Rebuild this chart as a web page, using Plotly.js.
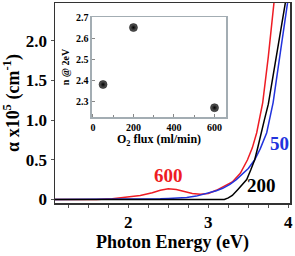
<!DOCTYPE html>
<html><head><meta charset="utf-8">
<script src="https://cdn.plot.ly/plotly-3.0.1.min.js"></script>
<style>html,body{margin:0;padding:0;background:#fff}#c{width:295px;height:256px}</style>
</head><body><div id="c"></div>
<script>
// Main chart: absorption coefficient vs photon energy
const e200 = [1.08, 3.2, 3.25, 3.3, 3.37, 3.42, 3.48, 3.53, 3.58, 3.62, 3.66, 3.7, 3.75, 3.8, 3.85, 3.9, 3.97, 4.0];
const a200 = [0, 0, 0.02, 0.05, 0.126, 0.18, 0.25, 0.37, 0.5, 0.66, 0.84, 1.0, 1.2, 1.5, 1.8, 2.1, 2.5, 2.7];
const e600 = [1.08, 1.6, 1.8, 1.9, 2.0, 2.15, 2.3, 2.4, 2.5, 2.6, 2.7, 2.8, 2.9, 3.0, 3.1, 3.2, 3.3, 3.4, 3.49, 3.55, 3.605, 3.68, 3.75, 3.825, 3.85];
const a600 = [0, 0, 0.01, 0.02, 0.03, 0.05, 0.085, 0.115, 0.135, 0.125, 0.1, 0.075, 0.065, 0.075, 0.115, 0.165, 0.22, 0.33, 0.5, 0.65, 0.84, 1.22, 1.8, 2.52, 2.75];
const e50 = [1.08, 2.0, 2.2, 2.4, 2.5, 2.6, 2.73, 2.85, 2.94, 3.02, 3.1, 3.18, 3.27, 3.35, 3.42, 3.5, 3.58, 3.65, 3.73, 3.81, 3.9, 4.0, 4.03];
const a50 = [0, 0, 0.003, 0.008, 0.012, 0.016, 0.025, 0.042, 0.063, 0.085, 0.11, 0.14, 0.19, 0.25, 0.31, 0.39, 0.5, 0.64, 0.84, 1.22, 1.85, 2.52, 2.75];
// Inset: refractive index at 2 eV vs O2 flux
const flux = [50, 200, 600];
const nAt2eV = [2.38, 2.65, 2.27];
// Tick labels
const xTickVals = [2, 3, 4];
const yTickVals = [0, 0.5, 1, 1.5, 2];
const yTickText = ['0', '0.5', '1.0', '1.5', '2.0'];
const insetXTicks = [0, 200, 400, 600];
const insetYTicks = [2.3, 2.4, 2.5, 2.6, 2.7];
// Curve labels
const labelText = ['600', '200', '50'];
const labelX = [2.5, 3.66, 3.89];
const labelY = [0.30, 0.17, 0.71];
const labelColor = ['#ee1c24', '#000000', '#2233dd'];

const F = 'Liberation Serif, DejaVu Serif, serif';
const traces = [
  {x: e600, y: a600, mode: 'lines', line: {color: '#ee1c24', width: 1.5}, xaxis: 'x', yaxis: 'y'},
  {x: e50, y: a50, mode: 'lines', line: {color: '#2233dd', width: 1.5}, xaxis: 'x', yaxis: 'y'},
  {x: e200, y: a200, mode: 'lines', line: {color: '#000000', width: 1.5}, xaxis: 'x', yaxis: 'y'},
  {x: flux, y: nAt2eV, mode: 'markers', xaxis: 'x2', yaxis: 'y2',
   marker: {size: 8, color: '#666666', gradient: {type: 'radial', color: '#000000'}, line: {width: 0.5, color: '#000'}}}
];
const annotations = labelText.map((t, i) => ({
  x: labelX[i], y: labelY[i], xref: 'x', yref: 'y', text: '<b>' + t + '</b>', showarrow: false,
  font: {family: F, size: 19, color: labelColor[i]}
}));
const layout = {
  width: 295, height: 256,
  margin: {l: 55, r: 5, t: 3, b: 53},
  showlegend: false,
  paper_bgcolor: '#fff', plot_bgcolor: '#fff',
  font: {family: F, color: '#000'},
  xaxis: {
    range: [1.084, 4.021], tickvals: xTickVals, ticktext: ['<b>2</b>', '<b>3</b>', '<b>4</b>'],
    ticks: 'outside', ticklen: 3, tickcolor: '#555', showgrid: false, zeroline: false,
    minor: {dtick: 0.25, tick0: 0, ticks: 'outside', ticklen: 3, tickcolor: '#555'},
    showline: true, linecolor: '#333', linewidth: 1.5, mirror: true,
    tickfont: {family: F, size: 17},
    title: {text: '<b>Photon Energy (eV)</b>', font: {family: F, size: 18}, standoff: 4}
  },
  yaxis: {
    range: [-0.045, 2.475], tickvals: yTickVals, ticktext: yTickText.map(s => '<b>' + s + '</b>'),
    ticks: 'outside', ticklen: 3, tickcolor: '#555', showgrid: false, zeroline: false,
    showline: true, linecolor: '#333', linewidth: 1.5, mirror: true,
    tickfont: {family: F, size: 17},
    title: {text: '<b>α x10<sup>5</sup> (cm<sup>-1</sup>)</b>', font: {family: F, size: 18}, standoff: 4}
  },
  xaxis2: {
    domain: [0.157, 0.728], anchor: 'y2', range: [-5, 657], tickvals: insetXTicks,
    ticktext: insetXTicks.map(v => '<b>' + v + '</b>'),
    ticks: 'inside', ticklen: 3, tickcolor: '#888', showgrid: false, zeroline: false,
    minor: {dtick: 100, ticks: 'inside', ticklen: 2, tickcolor: '#888'},
    showline: true, linecolor: '#a3adb3', linewidth: 1.5, mirror: true,
    tickfont: {family: F, size: 10},
    title: {text: '<b>O<sub>2</sub> flux (ml/min)</b>', font: {family: F, size: 12}, standoff: 2}
  },
  yaxis2: {
    domain: [0.43, 0.93], anchor: 'x2', range: [2.226, 2.7], tickvals: insetYTicks,
    ticktext: insetYTicks.map(v => '<b>' + v.toFixed(1) + '</b>'),
    ticks: 'inside', ticklen: 3, tickcolor: '#888', showgrid: false, zeroline: false,
    showline: true, linecolor: '#a3adb3', linewidth: 1.5, mirror: true,
    tickfont: {family: F, size: 10},
    title: {text: '<b>n @ 2eV</b>', font: {family: F, size: 10}, standoff: 4}
  },
  annotations: annotations
};
Plotly.newPlot('c', traces, layout, {displayModeBar: false, staticPlot: true});
</script></body></html>
